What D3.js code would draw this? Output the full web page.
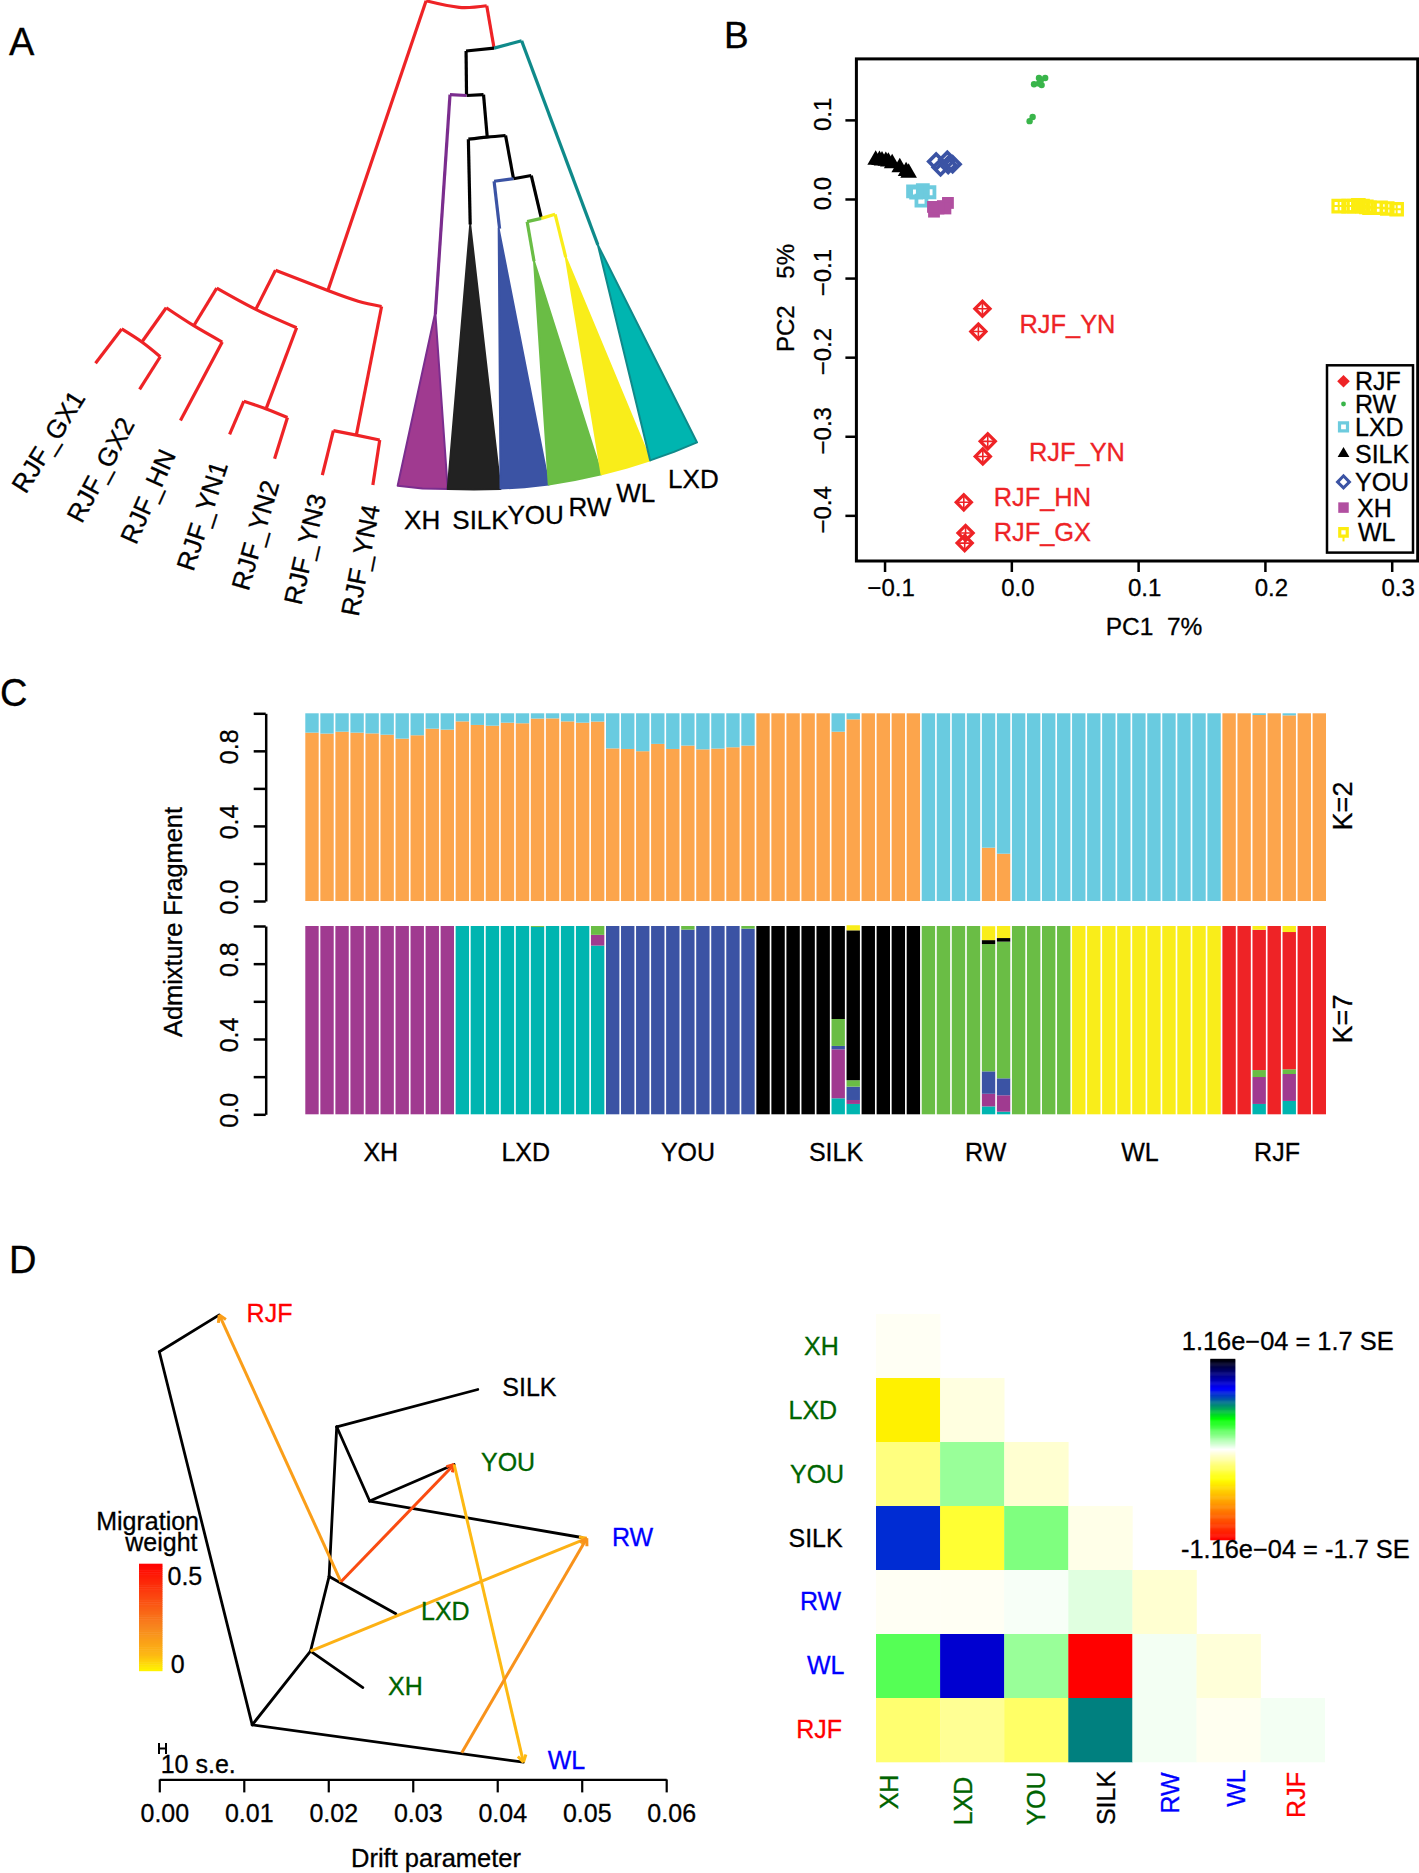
<!DOCTYPE html>
<html>
<head>
<meta charset="utf-8">
<title>Admixture figure</title>
<script src="https://d3js.org/d3.v7.min.js"></script>
<style>
  html, body { margin: 0; padding: 0; background: #fff; }
  svg { display: block; }
  text { font-family: "Liberation Sans", Arial, sans-serif; fill: #000; stroke: #000; stroke-width: 0.3; white-space: pre; }
</style>
</head>
<body>
<div id="chart"></div>
<script>
// ---- panel A: tree, in tree units (scaled to the panel below)
let treeEdges = [
  ["#ee2326", [[928, 2], [1000, 18], [1060, 14]]],
  ["#ee2326", [[928, 2], [714, 712]]],
  ["#ee2326", [[1060, 14], [1076, 118]]],
  ["#ee2326", [[600, 662], [714, 712], [780, 738], [831, 751]]],
  ["#ee2326", [[600, 662], [557, 758]]],
  ["#ee2326", [[831, 751], [776, 1066]]],
  ["#ee2326", [[472, 706], [557, 758], [646, 803]]],
  ["#ee2326", [[472, 706], [422, 798]]],
  ["#ee2326", [[646, 803], [580, 1000]]],
  ["#ee2326", [[362, 754], [422, 798], [484, 838]]],
  ["#ee2326", [[362, 754], [309, 838]]],
  ["#ee2326", [[484, 838], [393, 1030]]],
  ["#ee2326", [[265, 806], [309, 838], [349, 874]]],
  ["#ee2326", [[265, 806], [208, 890]]],
  ["#ee2326", [[349, 874], [304, 954]]],
  ["#ee2326", [[531, 983], [580, 1002], [626, 1023]]],
  ["#ee2326", [[531, 983], [500, 1064]]],
  ["#ee2326", [[626, 1023], [598, 1124]]],
  ["#ee2326", [[726, 1055], [776, 1066], [827, 1078]]],
  ["#ee2326", [[726, 1055], [702, 1164]]],
  ["#ee2326", [[827, 1078], [812, 1188]]],
  ["#0f8a8a", [[1076, 118], [1136, 100]]],
  ["#0f8a8a", [[1136, 100], [1302, 600]]],
  ["#000000", [[1015, 125], [1076, 118]]],
  ["#000000", [[1015, 125], [1016, 232]]],
  ["#000000", [[1016, 234], [1053, 232]]],
  ["#000000", [[1053, 232], [1061, 335]]],
  ["#000000", [[1020, 341], [1061, 336], [1101, 332]]],
  ["#000000", [[1020, 341], [1024, 550]]],
  ["#000000", [[1101, 332], [1118, 436]]],
  ["#000000", [[1118, 438], [1157, 430]]],
  ["#000000", [[1157, 430], [1179, 535]]],
  ["#7b2d8e", [[980, 232], [1016, 234]]],
  ["#7b2d8e", [[980, 232], [948, 770]]],
  ["#3b53a4", [[1076, 444], [1118, 438]]],
  ["#3b53a4", [[1076, 444], [1088, 560]]],
  ["#6abd45", [[1148, 543], [1179, 535]]],
  ["#6abd45", [[1148, 543], [1163, 640]]],
  ["#f9ed1a", [[1179, 535], [1209, 525]]],
  ["#f9ed1a", [[1209, 525], [1232, 630]]]
];
let treeWedges = [
  ["#a03a90", "#7b2d8e", [[948, 765], [866, 1190], [920, 1197], [975, 1198]]],
  ["#222222", "#222222", [[1024, 550], [975, 1198], [1032, 1199], [1090, 1198]]],
  ["#3b53a4", "#3b53a4", [[1086, 560], [1090, 1197], [1142, 1194], [1195, 1187]]],
  ["#6abd45", "#6abd45", [[1163, 640], [1195, 1187], [1252, 1176], [1310, 1162]]],
  ["#f9ed1a", "#f9ed1a", [[1232, 630], [1310, 1162], [1364, 1146], [1416, 1128]]],
  ["#00b5b0", "#0f8a8a", [[1302, 600], [1416, 1128], [1468, 1107], [1518, 1084]]]
];
let tipNames = ["RJF_GX1", "RJF_GX2", "RJF_HN", "RJF_YN1", "RJF_YN2", "RJF_YN3", "RJF_YN4"];
let tipAngles = [58, 62, 66, 72, 74, 77, 79];
let tipStarts = [[56, 1212], [178, 1285], [296, 1337], [421, 1402], [541, 1450], [656, 1485], [781, 1512]];
let wedgeNames = ["XH", "SILK", "YOU", "RW", "WL", "LXD"];
let wedgeStarts = [[880, 1295], [985, 1295], [1105, 1285], [1238, 1265], [1342, 1230], [1455, 1196]];

// ---- panel B: PCA
let pc1Rjf = [-0.0228, -0.026, -0.0186, -0.0225, -0.0375, -0.0361, -0.0368];
let pc2Rjf = [-0.1388, -0.1676, -0.3064, -0.3255, -0.3835, -0.4223, -0.4351];
let pc1Rw = [0.0179, 0.0218, 0.0267, 0.0239, 0.0218, 0.0232, 0.0168, 0.0144];
let pc2Rw = [0.145, 0.153, 0.153, 0.144, 0.146, 0.15, 0.1037, 0.0984];
let pc1Lxd = [-0.0775, -0.0698, -0.0646, -0.0709, -0.0751];
let pc2Lxd = [0.0096, 0.0112, 0.0085, -0.002, 0.008];
let pc1Silk = [-0.107, -0.104, -0.102, -0.099, -0.097, -0.094, -0.088, -0.083, -0.081];
let pc2Silk = [0.0495, 0.049, 0.0485, 0.048, 0.047, 0.045, 0.04, 0.035, 0.033];
let pc1You = [-0.0593, -0.0558, -0.0505, -0.0498, -0.0463];
let pc2You = [0.0473, 0.04, 0.0495, 0.043, 0.044];
let pc1Xh = [-0.061, -0.054, -0.05, -0.052, -0.0575, -0.0618];
let pc2Xh = [-0.016, -0.009, -0.005, -0.012, -0.012, -0.01];
let pc1Wl = [0.2582, 0.266, 0.27, 0.2737, 0.277, 0.28, 0.2825, 0.2912, 0.2965, 0.3039];
let pc2Wl = [-0.009, -0.009, -0.009, -0.008, -0.009, -0.01, -0.011, -0.011, -0.012, -0.013];
let pcaTicksX = [-0.1, 0, 0.1, 0.2, 0.3];
let pcaTicksY = [-0.4, -0.3, -0.2, -0.1, 0, 0.1];
let pcaLabels = ["RJF_YN", "RJF_YN", "RJF_HN", "RJF_GX"];
let pcaLegend = ["RJF", "RW", "LXD", "SILK", "YOU", "XH", "WL"];

// ---- panel C: admixture, 68 birds; rows are XH LXD YOU SILK RW WL RJF
let popNames = ["XH", "LXD", "YOU", "SILK", "RW", "WL", "RJF"];
let popSizes = [10, 10, 10, 11, 10, 10, 7];
let k2Orange = [
  0.897, 0.892, 0.902, 0.897, 0.893, 0.886, 0.865, 0.883, 0.918, 0.913,
  0.957, 0.938, 0.934, 0.95, 0.947, 0.972, 0.973, 0.957, 0.95, 0.956,
  0.813, 0.81, 0.798, 0.837, 0.81, 0.828, 0.808, 0.812, 0.819, 0.828,
  1, 1, 1, 1, 1, 0.902, 0.968, 1, 1, 1, 1,
  0, 0, 0, 0, 0.284, 0.252, 0, 0, 0, 0,
  0, 0, 0, 0, 0, 0, 0, 0, 0, 0,
  1, 1, 0.991, 1, 0.989, 1, 1
];
let k7Lxd = [
  0, 0, 0, 0, 0, 0, 0, 0, 0, 0,
  1, 1, 1, 1, 1, 0.995, 1, 1, 1, 0.896,
  0, 0, 0, 0, 0, 0, 0, 0, 0, 0,
  0, 0, 0, 0, 0, 0.085, 0.055, 0, 0, 0, 0,
  0, 0, 0, 0, 0.042, 0.014, 0, 0, 0, 0,
  0, 0, 0, 0, 0, 0, 0, 0, 0, 0,
  0, 0, 0.055, 0, 0.071, 0, 0
];
let k7Xh = [
  1, 1, 1, 1, 1, 1, 1, 1, 1, 1,
  0, 0, 0, 0, 0, 0, 0, 0, 0, 0.057,
  0, 0, 0, 0, 0, 0, 0, 0, 0, 0,
  0, 0, 0, 0, 0, 0.26, 0.021, 0, 0, 0, 0,
  0, 0, 0, 0, 0.067, 0.087, 0, 0, 0, 0,
  0, 0, 0, 0, 0, 0, 0, 0, 0, 0,
  0, 0, 0.143, 0, 0.143, 0, 0
];
let k7You = [
  0, 0, 0, 0, 0, 0, 0, 0, 0, 0,
  0, 0, 0, 0, 0, 0, 0, 0, 0, 0,
  1, 1, 1, 1, 1, 0.981, 1, 1, 1, 0.986,
  0, 0, 0, 0, 0, 0.018, 0.071, 0, 0, 0, 0,
  0, 0, 0, 0, 0.119, 0.09, 0, 0, 0, 0,
  0, 0, 0, 0, 0, 0, 0, 0, 0, 0,
  0, 0, 0, 0, 0, 0, 0
];
let k7Rw = [
  0, 0, 0, 0, 0, 0, 0, 0, 0, 0,
  0, 0, 0, 0, 0, 0.005, 0, 0, 0, 0.047,
  0, 0, 0, 0, 0, 0.019, 0, 0, 0, 0.014,
  0, 0, 0, 0, 0, 0.143, 0.034, 0, 0, 0, 0,
  1, 1, 1, 1, 0.676, 0.726, 1, 1, 1, 1,
  0, 0, 0, 0, 0, 0, 0, 0, 0, 0,
  0, 0, 0.037, 0, 0.025, 0, 0
];
let k7Rjf = [
  0, 0, 0, 0, 0, 0, 0, 0, 0, 0,
  0, 0, 0, 0, 0, 0, 0, 0, 0, 0,
  0, 0, 0, 0, 0, 0, 0, 0, 0, 0,
  0, 0, 0, 0, 0, 0, 0, 0, 0, 0, 0,
  0, 0, 0, 0, 0, 0, 0, 0, 0, 0,
  0, 0, 0, 0, 0, 0, 0, 0, 0, 0,
  1, 1, 0.745, 1, 0.729, 1, 1
];
let k7Silk = [
  0, 0, 0, 0, 0, 0, 0, 0, 0, 0,
  0, 0, 0, 0, 0, 0, 0, 0, 0, 0,
  0, 0, 0, 0, 0, 0, 0, 0, 0, 0,
  1, 1, 1, 1, 1, 0.494, 0.796, 1, 1, 1, 1,
  0, 0, 0, 0, 0.021, 0.019, 0, 0, 0, 0,
  0, 0, 0, 0, 0, 0, 0, 0, 0, 0,
  0, 0, 0, 0, 0, 0, 0
];
let k7Wl = [
  0, 0, 0, 0, 0, 0, 0, 0, 0, 0,
  0, 0, 0, 0, 0, 0, 0, 0, 0, 0,
  0, 0, 0, 0, 0, 0, 0, 0, 0, 0,
  0, 0, 0, 0, 0, 0, 0.027, 0, 0, 0, 0,
  0, 0, 0, 0, 0.074, 0.064, 0, 0, 0, 0,
  1, 1, 1, 1, 1, 1, 1, 1, 1, 1,
  0, 0, 0.02, 0, 0.032, 0, 0
];
let admixTicks = [0, 0.2, 0.4, 0.6, 0.8, 1];

// ---- panel D left: migration tree. x = drift, y = plot height units
let driftNodes = {
  a: [0, 297], rjf: [0.0071, 207], b: [0.011, 1207], wl: [0.0431, 1298], c: [0.0179, 1027],
  xh: [0.0241, 1116], d: [0.0201, 845], lxd: [0.028, 936], e: [0.021, 480], silk: [0.0377, 389],
  f: [0.0249, 661], you: [0.0349, 572], rw: [0.05, 750], m1: [0.0215, 858], m2: [0.0358, 1275], rwIn: [0.0506, 752]
};
let driftEdges = [["a", "rjf"], ["a", "b"], ["b", "c"], ["b", "wl"], ["c", "xh"], ["c", "d"],
  ["d", "lxd"], ["d", "e"], ["e", "silk"], ["e", "f"], ["f", "you"], ["f", "rw"]];
let migrationFrom = ["m1", "m1", "you", "c", "m2"];
let migrationTo = ["rjf", "you", "wl", "rwIn", "rwIn"];
let migrationWeight = [0.14, 0.33, 0.07, 0.09, 0.17];
let driftTicks = [0, 0.01, 0.02, 0.03, 0.04, 0.05, 0.06];
let driftNames = ["RJF", "SILK", "YOU", "RW", "LXD", "XH", "WL"];
let driftColors = ["#ff0000", "#000000", "#006400", "#0000ff", "#006400", "#006400", "#0000ff"];

// ---- panel D right: residuals in units of 1.7 SE
let residNames = ["XH", "LXD", "YOU", "SILK", "RW", "WL", "RJF"];
let residColors = ["#006400", "#006400", "#006400", "#000000", "#0000ff", "#0000ff", "#ff0000"];
let residXh = [-0.015];
let residLxd = [-0.37, -0.04];
let residYou = [-0.167, 0.133, -0.06];
let residSilk = [0.61, -0.267, 0.167, -0.03];
let residRw = [-0.015, -0.015, 0.01, 0.04, -0.06];
let residWl = [0.222, 0.728, 0.133, -1, 0.016, -0.05];
let residRjf = [-0.187, -0.14, -0.2, 0.5, 0.016, -0.02, 0.016];

let svg = d3.select("#chart").append("svg").attr("width", 1419).attr("height", 1873);

function label(x, y, txt, size, opts) {
  opts = opts || {};
  let t = svg.append("text")
    .attr("font-size", size)
    .attr("text-anchor", opts.anchor || "start")
    .attr("transform", "translate(" + x + "," + y + ")" + (opts.rotate ? " rotate(" + opts.rotate + ")" : ""))
    .text(txt);
  if (opts.fill) t.style("fill", opts.fill).style("stroke", opts.fill);
  return t;
}

label(9, 55, "A", 38);
label(724, 48, "B", 37);
label(0, 706, "C", 38);
label(9, 1273, "D", 38);

// ---------- A
let treeX = d3.scaleLinear().domain([0, 1568]).range([0, 720]);
let treeY = d3.scaleLinear().domain([0, 1568]).range([0, 640]);
let treeLine = d3.line().x(d => treeX(d[0])).y(d => treeY(d[1])).curve(d3.curveNatural);
let wedgeLine = d3.line().x(d => treeX(d[0])).y(d => treeY(d[1]));

svg.append("g").selectAll("path").data(treeWedges).enter().append("path")
  .attr("d", d => wedgeLine(d[2]) + "Z")
  .attr("fill", d => d[0])
  .attr("stroke", d => d[1])
  .attr("stroke-width", 2)
  .attr("stroke-linejoin", "round");

svg.append("g").selectAll("path").data(treeEdges).enter().append("path")
  .attr("d", d => treeLine(d[1]))
  .attr("fill", "none")
  .attr("stroke", d => d[0])
  .attr("stroke-width", 3.2);

tipNames.forEach(function(n, i) {
  label(treeX(tipStarts[i][0]), treeY(tipStarts[i][1]), n, 26, {rotate: -tipAngles[i]});
});
wedgeNames.forEach(function(n, i) {
  label(treeX(wedgeStarts[i][0]), treeY(wedgeStarts[i][1]), n, 26);
});

// ---------- B
let pcaX = d3.scaleLinear().domain([-0.1222, 0.3205]).range([856.4, 1417.7]);
let pcaY = d3.scaleLinear().domain([-0.4577, 0.1771]).range([561, 58.9]);
let fmt1 = d3.format(".1f");

let gx = svg.append("g").attr("transform", "translate(0,561)")
  .call(d3.axisBottom(pcaX).tickValues(pcaTicksX).tickSize(11).tickSizeOuter(0).tickFormat(fmt1));
gx.select(".domain").remove();
gx.selectAll("line").attr("stroke-width", 2.5);
gx.selectAll("text").attr("font-size", 24).attr("font-family", null).attr("x", 6).attr("y", 34.5).attr("dy", 0);

let gy = svg.append("g").attr("transform", "translate(856.4,0)")
  .call(d3.axisLeft(pcaY).tickValues(pcaTicksY).tickSize(11).tickSizeOuter(0).tickFormat(fmt1));
gy.select(".domain").remove();
gy.selectAll("line").attr("stroke-width", 2.5);
gy.selectAll("text").attr("font-size", 24).attr("font-family", null)
  .attr("text-anchor", "middle").attr("x", 6).attr("y", -25).attr("dy", 0).attr("transform", "rotate(-90)");

svg.append("rect").attr("x", pcaX.range()[0]).attr("y", pcaY.range()[1])
  .attr("width", pcaX.range()[1] - pcaX.range()[0]).attr("height", pcaY.range()[0] - pcaY.range()[1])
  .attr("fill", "none").attr("stroke", "#000").attr("stroke-width", 3);

label(1154, 635, "PC1  7%", 24.5, {anchor: "middle"});
label(794, 298, "PC2    5%", 24, {anchor: "middle", rotate: -90});

// draws one symbol kind at a position
function drawSymbol(g, kind, x, y, big) {
  let s = g.append("g").attr("transform", "translate(" + x + "," + y + ")");
  let sq = d3.symbol().type(d3.symbolSquare);
  if (kind == "RJF") {
    if (big) {
      s.append("path").attr("d", sq.size(115)()).attr("transform", "rotate(45)")
        .attr("fill", "none").attr("stroke", "#ee2326").attr("stroke-width", 3.2);
      s.append("path").attr("d", "M-6,0H6M0,-6V6").attr("stroke", "#ee2326").attr("stroke-width", 1.6);
    } else {
      s.append("path").attr("d", sq.size(80)()).attr("transform", "rotate(45)").attr("fill", "#ee2326");
    }
  } else if (kind == "RW") {
    s.append("circle").attr("r", big ? 3.2 : 2.4).attr("fill", "#39b54a");
  } else if (kind == "LXD") {
    s.append("path").attr("d", sq.size(big ? 100 : 64)()).attr("fill", "none").attr("stroke", "#6dcbde").attr("stroke-width", big ? 3.8 : 3.2);
  } else if (kind == "SILK") {
    s.append("path").attr("d", d3.symbol().type(d3.symbolTriangle).size(big ? 120 : 60)()).attr("fill", "#000");
  } else if (kind == "YOU") {
    s.append("path").attr("d", sq.size(big ? 110 : 70)()).attr("transform", "rotate(45)")
      .attr("fill", "none").attr("stroke", "#3b53a4").attr("stroke-width", big ? 3.6 : 3);
  } else if (kind == "XH") {
    s.append("path").attr("d", sq.size(big ? 140 : 110)()).attr("fill", "#b14fa0");
  } else if (kind == "WL") {
    s.append("path").attr("d", sq.size(big ? 130 : 56)()).attr("fill", "none").attr("stroke", "#fcec10").attr("stroke-width", 3.2);
    if (big) s.append("path").attr("d", "M-6,0H6M0,-6V6").attr("stroke", "#fcec10").attr("stroke-width", 2);
    else s.append("path").attr("d", "M0,3V9").attr("stroke", "#fcec10").attr("stroke-width", 2);
  }
}

let pcaSets = [["RJF", pc1Rjf, pc2Rjf], ["RW", pc1Rw, pc2Rw], ["LXD", pc1Lxd, pc2Lxd], ["SILK", pc1Silk, pc2Silk],
  ["YOU", pc1You, pc2You], ["XH", pc1Xh, pc2Xh], ["WL", pc1Wl, pc2Wl]];
let gp = svg.append("g");
pcaSets.forEach(function(set) {
  set[1].forEach(function(v, i) {
    drawSymbol(gp, set[0], pcaX(v), pcaY(set[2][i]), true);
  });
});

[[1019.5, 332.5], [1029, 461], [993.7, 506], [993.7, 541]].forEach(function(p, i) {
  label(p[0], p[1], pcaLabels[i], 25.4, {fill: "#ee2326"});
});

// legend
svg.append("rect").attr("x", 1327).attr("y", 365.3).attr("width", 86).attr("height", 187.3)
  .attr("fill", "#fff").attr("stroke", "#000").attr("stroke-width", 2.5);
let legendRowY = [381.3, 404, 426.8, 453.7, 481.9, 507.6, 532.4];
let legendTextX = [1355, 1355, 1355, 1355, 1355, 1357, 1358];
pcaLegend.forEach(function(n, i) {
  drawSymbol(svg, n, 1343.5, legendRowY[i], false);
  label(legendTextX[i], legendRowY[i] + 9, n, 25);
});

// ---------- C
let birds = d3.range(k2Orange.length);
let barX = d3.scaleBand().domain(birds).range([305.3, 1326]).paddingInner(0.11).paddingOuter(0);
let k2Y = d3.scaleLinear().domain([0, 1]).range([901, 713.3]);
let k7Y = d3.scaleLinear().domain([0, 1]).range([1114.3, 926]);

let k2Rows = birds.map(i => ({bird: i, orange: k2Orange[i], cyan: 1 - k2Orange[i]}));
let k2Colors = {orange: "#fca54c", cyan: "#69cbe0"};
let k2Stack = d3.stack().keys(["orange", "cyan"])(k2Rows);

let k7Rows = birds.map(i => ({bird: i, lxd: k7Lxd[i], xh: k7Xh[i], you: k7You[i], rw: k7Rw[i], rjf: k7Rjf[i], silk: k7Silk[i], wl: k7Wl[i]}));
let k7Colors = {lxd: "#00b5b0", xh: "#a03a90", you: "#3b53a4", rw: "#6abd45", rjf: "#ee2326", silk: "#000000", wl: "#f9ed1a"};
let k7Stack = d3.stack().keys(["lxd", "xh", "you", "rw", "rjf", "silk", "wl"])(k7Rows);

function drawStack(stack, colors, y) {
  svg.append("g").selectAll("g").data(stack).enter().append("g")
    .attr("fill", d => colors[d.key])
    .selectAll("rect").data(d => d.filter(e => e[1] > e[0])).enter().append("rect")
    .attr("x", d => barX(d.data.bird))
    .attr("width", barX.bandwidth())
    .attr("y", d => y(d[1]))
    .attr("height", d => y(d[0]) - y(d[1]));
  let ax = svg.append("g").attr("transform", "translate(265.7,0)")
    .call(d3.axisLeft(y).tickValues(admixTicks).tickSize(12).tickSizeOuter(0)
      .tickFormat(d => (d == 0 || d == 0.4 || d == 0.8) ? fmt1(d) : ""));
  ax.select(".domain").attr("stroke-width", 2.5);
  ax.selectAll("line").attr("stroke-width", 2.5);
  ax.selectAll("text").attr("font-size", 25).attr("font-family", null)
    .attr("text-anchor", "middle").attr("x", 4.5).attr("y", -27.5).attr("dy", 0).attr("transform", "rotate(-90)");
}
drawStack(k2Stack, k2Colors, k2Y);
drawStack(k7Stack, k7Colors, k7Y);

label(182, 922, "Admixture Fragment", 25.4, {anchor: "middle", rotate: -90});
label(1352, 806, "K=2", 27, {anchor: "middle", rotate: -90});
label(1352, 1019, "K=7", 27, {anchor: "middle", rotate: -90});
let popLabelX = [380.8, 525.7, 688, 836, 985.7, 1140, 1277];
popNames.forEach(function(n, i) { label(popLabelX[i], 1161, n, 25, {anchor: "middle"}); });

// ---------- D left
let driftX = d3.scaleLinear().domain([0, 0.06]).range([159.3, 666.2]);
let driftY = d3.scaleLinear().domain([0, 1340]).range([1230, 1779.4]);
let migColor = d3.scaleLinear().domain([0, 0.07, 0.2, 0.5]).range(["#fff200", "#fdb913", "#f7861e", "#ff0000"]);

svg.append("g").selectAll("line").data(driftEdges).enter().append("line")
  .attr("x1", d => driftX(driftNodes[d[0]][0])).attr("y1", d => driftY(driftNodes[d[0]][1]))
  .attr("x2", d => driftX(driftNodes[d[1]][0])).attr("y2", d => driftY(driftNodes[d[1]][1]))
  .attr("stroke", "#000").attr("stroke-width", 2.8).attr("stroke-linecap", "round");

migrationFrom.forEach(function(from, i) {
  let x1 = driftX(driftNodes[from][0]), y1 = driftY(driftNodes[from][1]);
  let x2 = driftX(driftNodes[migrationTo[i]][0]), y2 = driftY(driftNodes[migrationTo[i]][1]);
  let col = migColor(migrationWeight[i]);
  let ang = Math.atan2(y2 - y1, x2 - x1);
  svg.append("line").attr("x1", x1).attr("y1", y1).attr("x2", x2).attr("y2", y2)
    .attr("stroke", col).attr("stroke-width", 3);
  let head = [ang + 2.6, ang - 2.6].map(a => "M" + x2 + "," + y2 + "L" + (x2 + 8 * Math.cos(a)) + "," + (y2 + 8 * Math.sin(a)));
  svg.append("path").attr("d", head.join("")).attr("stroke", col).attr("stroke-width", 3).attr("fill", "none");
});

let driftLabelPos = [[246.6, 1322], [502.3, 1396], [481, 1471], [612, 1545.7], [421, 1620], [388, 1694.5], [547.7, 1769]];
driftNames.forEach(function(n, i) {
  label(driftLabelPos[i][0], driftLabelPos[i][1], n, 25, {fill: driftColors[i]});
});

let dAx = svg.append("g").attr("transform", "translate(0,1779.4)")
  .call(d3.axisBottom(driftX).tickValues(driftTicks).tickSize(13).tickSizeOuter(0).tickFormat(d3.format(".2f")));
dAx.select(".domain").attr("stroke-width", 2.2);
dAx.selectAll("line").attr("stroke-width", 2.2);
dAx.selectAll("text").attr("font-size", 25).attr("font-family", null).attr("x", 5).attr("y", 43).attr("dy", 0);
label(436, 1867, "Drift parameter", 25.5, {anchor: "middle"});

// 10 s.e. bar
svg.append("path").attr("d", "M159,1743V1754M166,1743V1754M159,1748.5H166").attr("stroke", "#000").attr("stroke-width", 2).attr("fill", "none");
label(160.7, 1773, "10 s.e.", 25);

label(199, 1530, "Migration", 25, {anchor: "end"});
label(197.5, 1551, "weight", 25, {anchor: "end"});
let weightY = d3.scaleLinear().domain([0, 0.5]).range([1670.7, 1563.7]);
svg.append("g").selectAll("rect").data(d3.range(0, 0.5, 0.01)).enter().append("rect")
  .attr("x", 139).attr("width", 23.5)
  .attr("y", d => weightY(d + 0.01))
  .attr("height", d => weightY(d) - weightY(d + 0.01) + 0.5)
  .attr("fill", d => migColor(d));
label(167.5, 1585, "0.5", 25);
label(170.8, 1672.8, "0", 25);

// ---------- D right
let residX = d3.scaleBand().domain(residNames).range([876, 1324.7]);
let residY = d3.scaleBand().domain(residNames).range([1314, 1762]);
let residColor = d3.scaleLinear().domain([-1, -0.333, 0, 0.333, 0.667, 1])
  .range(["#ff0000", "#ffff00", "#ffffff", "#00ff00", "#0000ff", "#000000"]);
let residRows = [residXh, residLxd, residYou, residSilk, residRw, residWl, residRjf];
let residCells = [];
residRows.forEach(function(row, r) {
  row.forEach(function(v, c) {
    residCells.push({row: residNames[r], col: residNames[c], v: v});
  });
});
svg.append("g").selectAll("rect").data(residCells).enter().append("rect")
  .attr("x", d => residX(d.col)).attr("y", d => residY(d.row))
  .attr("width", residX.bandwidth() + 0.3).attr("height", residY.bandwidth() + 0.3)
  .attr("fill", d => residColor(d.v));

let residRowX = [804, 788.5, 790, 788.5, 800, 807, 796.3];
let residRowBase = [1355, 1419, 1482.6, 1546.5, 1609.7, 1674, 1738];
let residColBase = [898, 971.7, 1044.5, 1114.6, 1178.7, 1244.5, 1305];
let residColMid = [1792, 1801, 1798.5, 1798, 1793, 1788, 1795];
residNames.forEach(function(n, i) {
  label(residRowX[i], residRowBase[i], n, 25, {fill: residColors[i]});
  label(residColBase[i], residColMid[i], n, 25, {fill: residColors[i], anchor: "middle", rotate: -90});
});

let residBarY = d3.scaleLinear().domain([-1, 1]).range([1539.8, 1358.8]);
svg.append("g").selectAll("rect").data(d3.range(-1, 1, 0.01)).enter().append("rect")
  .attr("x", 1210.3).attr("width", 25)
  .attr("y", d => residBarY(d + 0.01))
  .attr("height", d => residBarY(d) - residBarY(d + 0.01) + 0.5)
  .attr("fill", d => residColor(d));
label(1181.8, 1349.5, "1.16e\u221204 = 1.7 SE", 25.4);
label(1181, 1558.4, "-1.16e\u221204 = -1.7 SE", 25.4);
</script>
</body>
</html>
